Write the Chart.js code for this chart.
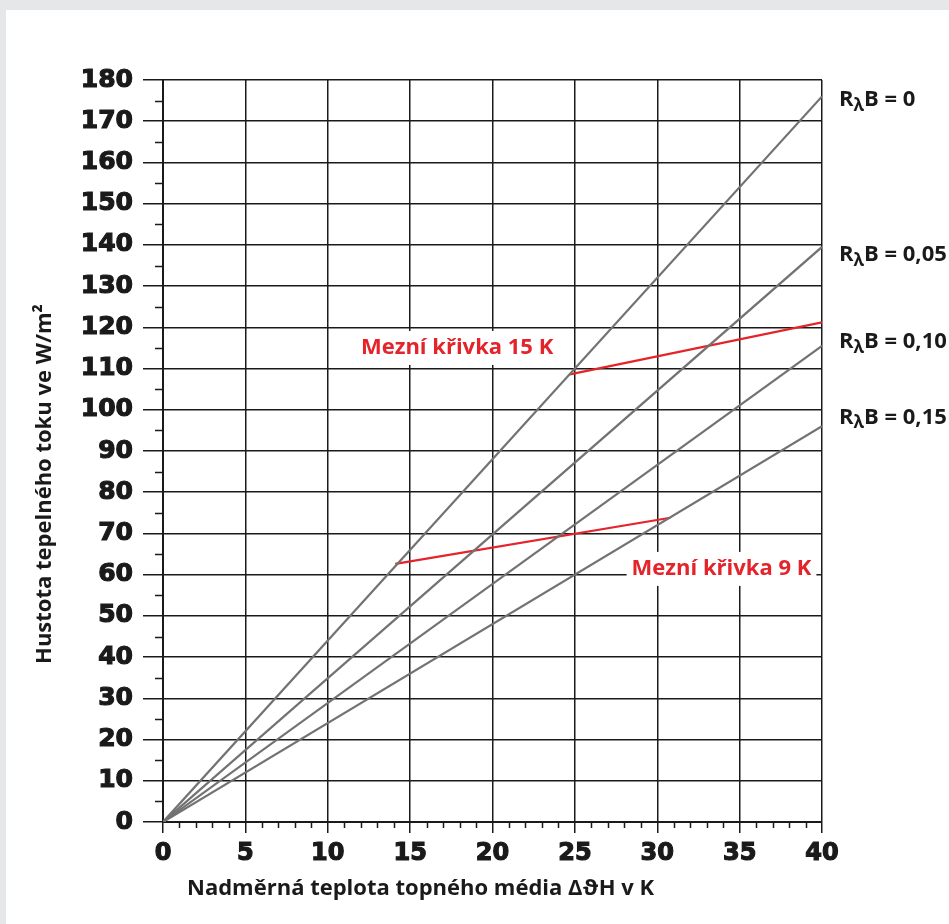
<!DOCTYPE html>
<html>
<head>
<meta charset="utf-8">
<script src="https://cdn.jsdelivr.net/npm/chart.js@4.4.0/dist/chart.umd.min.js"></script>
<style>
  html, body { margin: 0; padding: 0; background: #e6e7e9; }
  #panel { position: absolute; left: 6px; top: 10px; width: 943px; height: 914px; background: #fff; }
</style>
</head>
<body>
<div id="panel"><canvas id="chart"></canvas></div>
<script>
// values
const deltaT = [0, 40];
const rbLabels = ['0', '0,05', '0,10', '0,15'];
const fluxRb000 = [0, 176];
const fluxRb005 = [0, 139.5];
const fluxRb010 = [0, 115.5];
const fluxRb015 = [0, 96];
const limit15X = [24.7, 40];
const limit15Y = [108.6, 121.2];
const limit9X = [14.1, 30.8];
const limit9Y = [62.6, 73.8];
const limitNames = ['Mezní křivka 15 K', 'Mezní křivka 9 K'];

const GRAY = '#727272';
const RED = '#e4232a';
const INK = '#1a1a1a';
const TXT = "bold 22px 'Open Sans', 'Noto Sans', sans-serif";

function pts(xs, ys) {
  return xs.map((x, i) => ({x: x, y: ys[i]}));
}

let series = [fluxRb000, fluxRb005, fluxRb010, fluxRb015];
let datasets = series.map((s, i) => ({
  label: 'RλB = ' + rbLabels[i],
  data: pts(deltaT, s),
  borderColor: GRAY,
  borderWidth: 2.2,
  pointRadius: 0,
  showLine: true
}));
datasets.push({label: limitNames[0], data: pts(limit15X, limit15Y), borderColor: RED, borderWidth: 2.2, pointRadius: 0, showLine: true});
datasets.push({label: limitNames[1], data: pts(limit9X, limit9Y), borderColor: RED, borderWidth: 2.2, pointRadius: 0, showLine: true});

// minor ticks, labels and axis titles
const extras = {
  id: 'extras',
  afterDatasetsDraw(chart) {
    const ctx = chart.ctx;
    const xs = chart.scales.x;
    const ys = chart.scales.y;
    const a = chart.chartArea;
    ctx.save();
    ctx.strokeStyle = INK;
    ctx.lineWidth = 1.5;
    ctx.beginPath();
    for (let v = 1; v < 40; v++) {
      if (v % 5 == 0) continue;
      let px = Math.round(xs.getPixelForValue(v)) + 0.5;
      ctx.moveTo(px, a.bottom);
      ctx.lineTo(px, a.bottom + 6);
    }
    for (let v = 5; v < 180; v += 10) {
      let py = Math.round(ys.getPixelForValue(v)) + 0.5;
      ctx.moveTo(a.left - 8, py);
      ctx.lineTo(a.left, py);
    }
    ctx.stroke();

    // limit curve labels on white boxes
    ctx.font = TXT;
    ctx.textBaseline = 'middle';
    ctx.textAlign = 'center';
    let boxes = [[17.85, 115.0, limitNames[0]], [33.9, 61.4, limitNames[1]]];
    boxes.forEach((b) => {
      let cx = xs.getPixelForValue(b[0]);
      let cy = ys.getPixelForValue(b[1]);
      let w = ctx.measureText(b[2]).width + 10;
      ctx.fillStyle = '#fff';
      ctx.fillRect(cx - w / 2, cy - 17, w, 34);
      ctx.fillStyle = RED;
      ctx.fillText(b[2], cx, cy);
    });

    // resistance labels right of the plot
    ctx.textAlign = 'left';
    ctx.fillStyle = INK;
    let labY = [175.2, 137.6, 116.4, 98.1];
    labY.forEach((v, i) => {
      let x = a.right + 17;
      let y = ys.getPixelForValue(v);
      ctx.font = TXT;
      ctx.fillText('R', x, y);
      x += ctx.measureText('R').width;
      ctx.font = "bold 17px 'Open Sans', 'Noto Sans', sans-serif";
      ctx.fillText('λ', x, y + 6);
      x += ctx.measureText('λ').width;
      ctx.font = TXT;
      ctx.fillText('B = ' + rbLabels[i], x, y);
    });

    // axis titles
    ctx.font = TXT;
    ctx.fillText('Nadměrná teplota topného média Δ\u03d1H v K', 181, 879);
    ctx.translate(39, 474);
    ctx.rotate(-Math.PI / 2);
    ctx.textAlign = 'center';
    ctx.fillText('Hustota tepelného toku ve W/m²', 0, 0);
    ctx.restore();
  }
};

new Chart(document.getElementById('chart'), {
  type: 'scatter',
  data: {datasets: datasets},
  options: {
    responsive: true,
    maintainAspectRatio: false,
    animation: false,
    events: [],
    layout: {padding: {left: 0, top: 70, right: 127, bottom: 0}},
    plugins: {legend: {display: false}, tooltip: {enabled: false}},
    scales: {
      x: {
        type: 'linear',
        min: 0,
        max: 40,
        afterFit: (s) => { s.height = 102; },
        ticks: {stepSize: 5, color: INK, padding: 6, textStrokeColor: INK, textStrokeWidth: 1.2, font: {family: "'DejaVu Sans'", weight: 'bold', size: 24}},
        grid: {color: INK, lineWidth: 1.5, tickLength: 11, tickColor: INK},
        border: {display: true, color: INK, width: 2}
      },
      y: {
        type: 'linear',
        min: 0,
        max: 180,
        afterFit: (s) => { s.width = 157; },
        ticks: {stepSize: 10, color: INK, padding: 10, textStrokeColor: INK, textStrokeWidth: 1.2, font: {family: "'DejaVu Sans'", weight: 'bold', size: 25}},
        grid: {color: INK, lineWidth: 1.5, tickLength: 20, tickColor: INK},
        border: {display: true, color: INK, width: 2}
      }
    }
  },
  plugins: [extras]
});
</script>
</body>
</html>
